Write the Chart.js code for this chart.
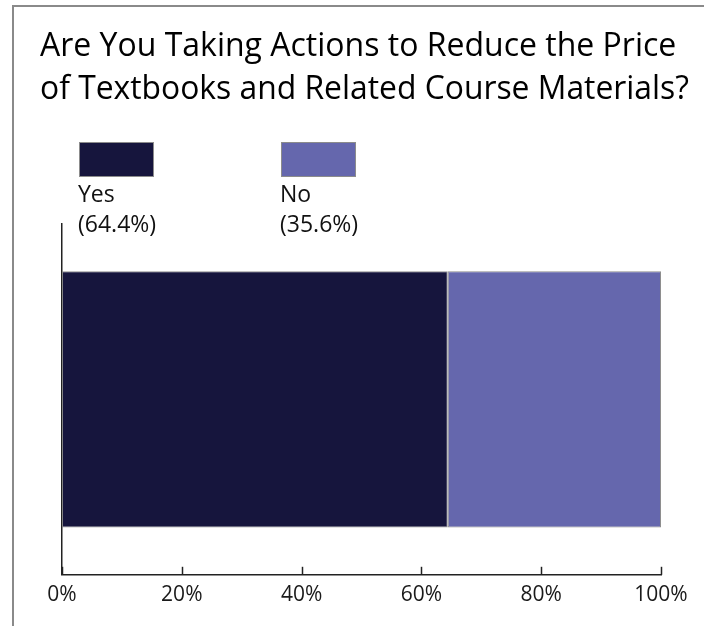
<!DOCTYPE html>
<html>
<head>
<meta charset="utf-8">
<script src="https://cdn.jsdelivr.net/npm/chart.js@4.4.1/dist/chart.umd.min.js"></script>
<style>
  html, body { margin: 0; padding: 0; background: #fff; overflow: hidden; }
  #frame { position: absolute; left: 12px; top: 5px; width: 800px; height: 700px;
           border-left: 2px solid #8a8a8a; border-top: 2px solid #8a8a8a; }
  #wrap { position: absolute; left: 0; top: 0; width: 704px; height: 626px; }
</style>
</head>
<body>
<div id="frame"></div>
<div id="wrap"><canvas id="myChart"></canvas></div>
<script>
var titleLines = ['Are You Taking Actions to Reduce the Price', 'of Textbooks and Related Course Materials?'];
var categories = ['Responses'];
var answers = ['Yes', 'No'];
var shares = [64.4, 35.6];
var answerColors = ['#16153d', '#6567ad'];
var tickValues = [0, 20, 40, 60, 80, 100];

// legend with label under the swatch, like the original
var stackLegend = {
    id: 'stackLegend',
    afterDraw: function (chart) {
        var c = chart.ctx;
        var lefts = [79, 281];
        c.save();
        c.font = '23px "Open Sans"';
        c.textBaseline = 'alphabetic';
        c.textAlign = 'left';
        for (var i = 0; i < answers.length; i++) {
            c.fillStyle = answerColors[i];
            c.fillRect(lefts[i], 142, 75, 35);
            c.strokeStyle = '#8c8c8c';
            c.lineWidth = 1;
            c.strokeRect(lefts[i] + 0.5, 142.5, 74, 34);
            c.fillStyle = '#111';
            c.fillText(answers[i], lefts[i] - 1, 202);
            c.fillText('(' + shares[i].toFixed(1) + '%)', lefts[i] - 1, 232);
        }
        c.restore();
    }
};

// small tick marks that point up into the plot
var innerTicks = {
    id: 'innerTicks',
    afterDraw: function (chart) {
        var x = chart.scales.x;
        var bottom = chart.chartArea.bottom;
        var c = chart.ctx;
        c.save();
        c.strokeStyle = '#222';
        c.lineWidth = 1.5;
        for (var i = 0; i < tickValues.length; i++) {
            var px = Math.round(x.getPixelForValue(tickValues[i])) + 0.5;
            c.beginPath();
            c.moveTo(px, bottom);
            c.lineTo(px, bottom - 8);
            c.stroke();
        }
        c.restore();
    }
};

var datasets = [];
for (var i = 0; i < answers.length; i++) {
    datasets.push({
        label: answers[i],
        data: [shares[i]],
        backgroundColor: answerColors[i],
        borderColor: 'rgba(130,130,130,0.9)',
        borderWidth: 1,
        borderSkipped: false,
        barPercentage: 0.73,
        categoryPercentage: 1
    });
}

var ctx = document.getElementById('myChart');
var myChart = new Chart(ctx, {
    type: 'bar',
    data: { labels: categories, datasets: datasets },
    options: {
        indexAxis: 'y',
        responsive: true,
        maintainAspectRatio: false,
        animation: false,
        layout: { padding: { left: 40, right: 15, top: 26, bottom: 10 } },
        plugins: {
            legend: { display: false },
            tooltip: { enabled: false },
            title: {
                display: true,
                text: titleLines,
                align: 'start',
                color: '#000',
                font: { family: 'Open Sans', size: 32, weight: 'normal', lineHeight: '42.5px' },
                padding: { top: 0, bottom: 113 }
            }
        },
        scales: {
            x: {
                stacked: true,
                min: 0,
                max: 100,
                afterBuildTicks: function (scale) {
                    scale.ticks = tickValues.map(function (v) { return { value: v }; });
                },
                afterFit: function (scale) { scale.paddingRight = 43; },
                grid: { display: false, drawTicks: false },
                border: { display: true, color: '#222', width: 1.5 },
                ticks: {
                    color: '#1a1a1a',
                    padding: 8,
                    maxRotation: 0,
                    font: { family: 'Open Sans', size: 21 },
                    callback: function (v) { return v + '%'; }
                }
            },
            y: {
                stacked: true,
                afterFit: function (scale) { scale.width = 22; },
                grid: { display: false, drawTicks: false },
                border: { display: true, color: '#222', width: 1.5 },
                ticks: { display: false }
            }
        }
    },
    plugins: [stackLegend, innerTicks]
});
</script>
</body>
</html>
